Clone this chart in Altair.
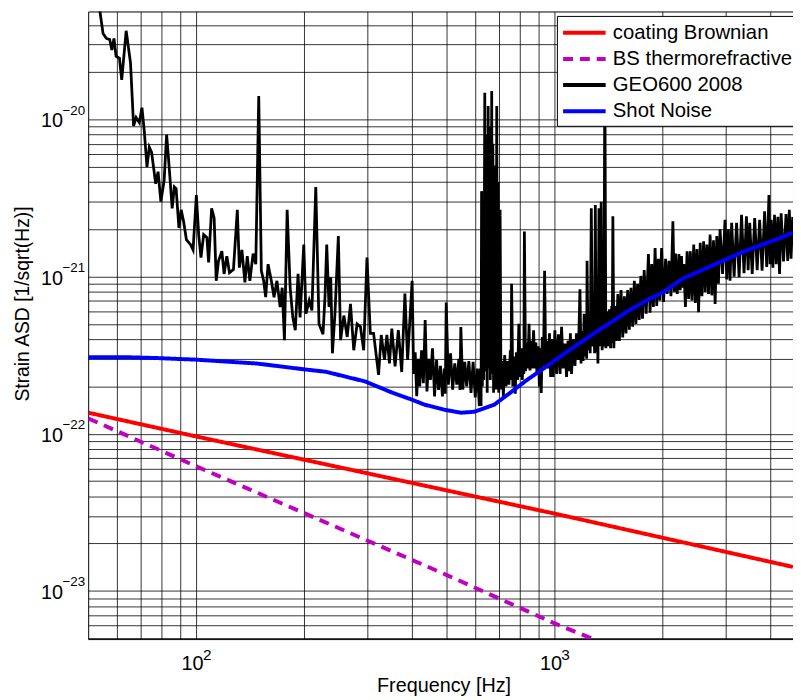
import altair as alt
import pandas as pd

# ---------------- data ----------------
GEO_FREQ = [52, 53.8, 54.9, 56.1, 57.3, 58.1, 58.9, 59.7, 61.0, 61.9, 63.7, 65.5, 66.8, 67.9, 69.3, 70.5,
            71.6, 72.8, 73.9, 75.0, 77.0, 78.2, 79.6, 81.3, 82.6, 83.9, 85.6, 86.8, 87.8, 89.4, 90.7, 92.1,
            93.8, 96.3, 97.9, 100.0, 101.5, 103.0, 104.8, 107.0, 108.2, 110.3, 112.1, 113.6, 115.3, 117.8,
            119.5, 121.6, 123.7, 126.9, 130.1, 131.8, 134.0, 136.6, 138.7, 141.0, 144.0, 146.5, 149.3, 151.8,
            154.1, 156.1, 158.5, 161.9, 164.7, 167.8, 171.3, 173.6, 176.1, 179.2, 182.7, 185.8, 188.8, 192.2,
            194.7, 199.4, 202.2, 206.5, 210.1, 215.4, 219.9, 225.6, 228.5, 231.1, 234.5, 237.1, 239.7, 243.6,
            249.0, 252.6, 258.0, 263.6, 269.2, 274.9, 280.9, 286.9, 293.0, 299.3, 305.8, 312.3, 317.1, 322.4,
            328.0, 334.9, 340.1, 345.8, 351.1, 358.5, 366.1, 374.1, 381.9, 388.6,
            # 400 - 620 Hz
            400, 404, 408, 412, 416, 420, 425, 430, 435, 440, 445, 450, 456, 462, 468, 474, 480, 486, 492,
            495, 498, 505, 512, 519, 526, 533, 540, 544, 547, 554, 561, 568, 576, 584, 592, 600, 608, 616,
            # 620 - 710 Hz line cluster
            620, 623, 625, 628, 631, 634, 638, 640, 642, 644, 646, 648, 650, 651, 652, 655, 658, 661, 664,
            665, 667, 670, 672, 675, 678, 681, 683, 686, 689, 692, 695, 698, 704, 708,
            # 710 - 1000 Hz
            713, 719, 725, 731, 737, 745, 752, 755, 758, 764, 770, 776, 782, 788, 794, 800, 806, 812, 818,
            820, 823, 829, 834, 841, 848, 853, 858, 865, 873, 880, 886, 892, 900, 906, 911, 917, 923, 930,
            937, 944, 950, 958, 967, 974, 981, 990,
            # 1 - 4.6 kHz
            1001, 1012, 1024, 1035, 1045, 1056, 1068, 1079, 1089, 1098, 1106, 1114, 1126, 1139, 1150, 1163,
            1176, 1184, 1192, 1200, 1208, 1216, 1224, 1228, 1231, 1239, 1247, 1256, 1265, 1275, 1285, 1292,
            1298, 1305, 1312, 1320, 1329, 1338, 1348, 1356, 1363, 1371, 1380, 1389, 1398, 1410, 1422, 1432,
            1442, 1447, 1453, 1462, 1472, 1486, 1500, 1515, 1531, 1548, 1565, 1581, 1598, 1615, 1632, 1650,
            1668, 1685, 1703, 1721, 1739, 1758, 1777, 1800, 1826, 1845, 1865, 1885, 1906, 1926, 1946, 1966,
            1987, 2012, 2039, 2060, 2084, 2110, 2137, 2155, 2173, 2197, 2221, 2240, 2258, 2275, 2292, 2316,
            2341, 2365, 2390, 2416, 2443, 2468, 2494, 2520, 2547, 2575, 2603, 2630, 2658, 2686, 2714, 2744,
            2774, 2803, 2833, 2863, 2893, 2940, 2987, 3020, 3052, 3085, 3117, 3167, 3217, 3270, 3321, 3375,
            3428, 3465, 3501, 3557, 3614, 3672, 3731, 3790, 3852, 3905, 3961, 3990, 4019, 4062, 4105, 4150,
            4195, 4240, 4283, 4350, 4421, 4468, 4515, 4565, 4614]
GEO_ASD = [9e-20, 4.9e-20, 3.53e-20, 3.28e-20, 3.23e-20, 2.77e-20, 3.28e-20, 2.52e-20, 2.46e-20, 1.79e-20,
           3.67e-20, 2.29e-20, 9.1e-21, 1.03e-20, 9.57e-21, 1.19e-20, 8.3e-21, 5.0e-21, 6.66e-21, 6.18e-21,
           3.9e-21, 4.65e-21, 3.0e-21, 4.1e-21, 8.0e-21, 5.1e-21, 2.72e-21, 3.72e-21, 3.63e-21, 2.04e-21,
           2.66e-21, 2.25e-21, 1.72e-21, 1.6e-21, 1.48e-21, 3.3e-21, 1.85e-21, 1.32e-21, 1.85e-21, 1.77e-21,
           1.23e-21, 2.72e-21, 2.36e-21, 9.4e-22, 1.26e-21, 1.45e-21, 1.04e-21, 1.35e-21, 1.06e-21, 1.11e-21,
           2.66e-21, 1.14e-21, 1.48e-21, 9.2e-22, 1.35e-21, 9.4e-22, 1.4e-21, 1.2e-21, 1.41e-20, 1.09e-21,
           9.4e-22, 7.4e-22, 1.2e-21, 9.4e-22, 7.4e-22, 9.4e-22, 6.4e-22, 8.5e-22, 3.94e-22, 2.66e-21,
           8.5e-22, 5.52e-22, 4.56e-22, 1.04e-21, 5.5e-22, 1.6e-21, 5.8e-22, 7.05e-22, 6.1e-22, 3.72e-21,
           5.0e-22, 4.3e-22, 7.4e-22, 1.6e-21, 6.4e-22, 9.9e-22, 3.25e-22, 5.8e-22, 1.81e-21, 3.94e-22,
           5.65e-22, 4.13e-22, 6.7e-22, 3.4e-22, 5.0e-22, 4.8e-22, 3.4e-22, 1.32e-21, 4.35e-22, 4.35e-22,
           3.25e-22, 2.37e-22, 4.25e-22, 2.95e-22, 4.25e-22, 2.8e-22, 4.67e-22, 2.68e-22, 4.56e-22, 2.47e-22,
           7.8e-22, 2.95e-22,
           # 400 - 620 Hz
           9.4e-22, 2.4e-22, 3.3e-22, 1.73e-22, 3.0e-22, 2.0e-22, 3.4e-22, 2.1e-22, 5.3e-22, 1.86e-22,
           3.0e-22, 2.2e-22, 3.5e-22, 1.73e-22, 2.95e-22, 1.9e-22, 2.7e-22, 1.73e-22, 2.6e-22,
           1.8e-22, 6.85e-22, 2.05e-22, 3.25e-22, 1.91e-22, 2.8e-22, 2.05e-22, 3.0e-22, 1.9e-22, 4.78e-22,
           1.91e-22, 2.87e-22, 2.0e-22, 2.9e-22, 1.82e-22, 2.87e-22, 1.7e-22, 2.6e-22, 1.5e-22,
           # 620 - 710 Hz
           2.6e-22, 1.5e-22, 3.5e-21, 2.0e-22, 1.9e-21, 2.2e-22, 1.48e-20, 3.0e-22, 6.0e-21, 2.5e-22,
           1.0e-21, 1.82e-22, 8.0e-21, 5.0e-22, 1.22e-20, 2.6e-22, 3.0e-21, 2.2e-22, 9.0e-21,
           4.0e-22, 1.52e-20, 2.4e-22, 7.0e-21, 1.82e-22, 5.1e-21, 2.2e-22, 3.0e-21, 1.91e-22, 1.22e-20,
           2.0e-22, 4.0e-21, 1.82e-22, 2.66e-21, 1.91e-22,
           # 710 - 1000 Hz
           2.9e-22, 1.73e-22, 3.17e-22, 2.0e-22, 2.9e-22, 2.05e-22, 3.4e-22, 2.2e-22, 9.0e-22, 2.0e-22,
           3.1e-22, 1.8e-22, 3.3e-22, 2.2e-22, 5.0e-22, 2.3e-22, 3.5e-22, 2.2e-22, 3.3e-22,
           2.4e-22, 1.94e-21, 2.5e-22, 3.8e-22, 2.6e-22, 5.0e-22, 2.53e-22, 3.9e-22, 2.6e-22, 4.56e-22,
           2.6e-22, 3.8e-22, 2.4e-22, 3.6e-22, 2.0e-22, 3.5e-22, 1.82e-22, 4.13e-22, 2.7e-22,
           1.09e-21, 2.68e-22, 3.9e-22, 2.6e-22, 4.35e-22, 2.3e-22, 4.0e-22, 2.3e-22,
           # 1 - 4.6 kHz
           4.56e-22, 2.4e-22, 4.3e-22, 2.4e-22, 4.8e-22, 2.6e-22, 3.75e-22, 2.3e-22, 3.9e-22, 2.5e-22,
           4.35e-22, 2.4e-22, 4.0e-22, 2.7e-22, 4.35e-22, 2.95e-22,
           8.3e-22, 2.8e-22, 4.5e-22, 2.9e-22, 5.8e-22, 3.1e-22, 5.0e-22, 3.0e-22, 1.26e-21, 3.4e-22,
           5.0e-22, 3.25e-22, 2.72e-21, 3.6e-22, 5.5e-22, 3.25e-22,
           2.86e-21, 3.3e-22, 5.5e-22, 2.8e-22, 2.72e-21, 3.6e-22, 3.0e-21, 3.4e-22, 4.8e-22, 3.6e-22,
           2.0e-20, 3.5e-22, 6.0e-22, 3.6e-22, 6.2e-22, 3.5e-22,
           6.5e-22, 3.8e-22, 2.42e-21, 3.5e-22, 6.5e-22, 3.9e-22, 7.75e-22, 3.9e-22, 8.2e-22, 4.1e-22,
           7.5e-22, 4.35e-22, 8.2e-22, 4.6e-22, 8.5e-22, 4.8e-22,
           9.4e-22, 5.0e-22, 9.0e-22, 5.3e-22, 1.01e-21, 5.4e-22, 1.1e-21, 5.8e-22, 1.39e-21, 5.9e-22,
           1.2e-21, 6.4e-22, 1.52e-21, 6.5e-22, 1.3e-21, 7.05e-22,
           1.52e-21, 6.9e-22, 1.3e-21, 7.75e-22, 1.26e-21, 7.5e-22, 2.25e-21, 8.0e-22, 1.4e-21, 7.75e-22,
           1.39e-21, 8.2e-22, 1.35e-21, 8.5e-22, 1.2e-21, 6.4e-22,
           1.45e-21, 7.2e-22, 1.45e-21, 7.05e-22, 1.6e-21, 6.8e-22, 1.5e-21, 5.94e-22, 1.64e-21, 7.5e-22,
           1.68e-21, 8.0e-22, 1.6e-21, 7.75e-22, 1.85e-21, 7.6e-22,
           1.7e-21, 6.7e-22, 1.81e-21, 9.0e-22, 2.0e-21, 1.04e-21, 2.3e-21, 9.6e-22, 2.0e-21, 9.4e-22,
           2.2e-21, 1.0e-21, 2.2e-21, 9.9e-22, 2.47e-21, 1.05e-21,
           2.42e-21, 1.1e-21, 2.2e-21, 1.04e-21, 2.36e-21, 1.1e-21, 2.3e-21, 1.09e-21, 2.6e-21, 1.15e-21,
           3.3e-21, 1.2e-21, 2.3e-21, 1.14e-21, 2.47e-21, 1.2e-21,
           2.4e-21, 1.04e-21, 2.53e-21, 1.25e-21, 2.5e-21, 1.26e-21, 2.66e-21, 1.3e-21, 2.4e-21]

SHOT_FREQ = [50, 63.2, 77.9, 100, 147.1, 202.3, 229.7, 296, 351, 398.6, 433.6, 493, 548, 596.5, 678, 753,
             837, 931, 1057, 1306, 1615, 1835, 1996, 2267, 2802, 3463, 4283, 4614]
SHOT_ASD = [3.07e-22, 3.07e-22, 3.03e-22, 2.96e-22, 2.8e-22, 2.56e-22, 2.48e-22, 2.15e-22, 1.83e-22, 1.65e-22,
            1.53e-22, 1.42e-22, 1.36e-22, 1.38e-22, 1.53e-22, 1.83e-22, 2.2e-22, 2.6e-22, 3.2e-22, 4.45e-22,
            6.1e-22, 7.2e-22, 7.9e-22, 9.65e-22, 1.2e-21, 1.48e-21, 1.77e-21, 1.9e-21]

COAT_FREQ = [50, 100, 1000, 4620]
COAT_ASD = [1.36e-22, 9.6e-23, 3.1e-23, 1.42e-23]

BS_FREQ = [50, 100, 500, 1000, 1290]
BS_ASD = [1.25e-22, 6.2e-23, 1.26e-23, 6.2e-24, 4.9e-24]

SERIES = ["coating Brownian", "BS thermorefractive", "GEO600 2008", "Shot Noise"]
COLORS = ["#ff0000", "#bf00bf", "#000000", "#0000ff"]
DASHES = [[1, 0], [10, 7], [1, 0], [1, 0]]

X_GRID = [60, 70, 80, 90, 100, 200, 300, 400, 500, 600, 700, 800, 900, 1000, 2000, 3000, 4000]
X_LABEL_VALUES = [100, 1000]
X_LABEL_EXP = ["2", "3"]
Y_GRID = [float(f"{k}e{e}") for e in (-24, -23, -22, -21, -20) for k in range(1, 10)]
Y_LABEL_VALUES = [1e-20, 1e-21, 1e-22, 1e-23]
Y_LABEL_EXP = ["\u221220", "\u221221", "\u221222", "\u221223"]

X_DOMAIN = [49.9, 4623]
Y_DOMAIN = [4.93e-24, 4.87e-20]
Y_GRID = [v for v in Y_GRID if Y_DOMAIN[0] <= v <= Y_DOMAIN[1]]

FONT = "Liberation Sans"

# ---------------- tables ----------------
rows = []
for name, fs, vs in [("GEO600 2008", GEO_FREQ, GEO_ASD), ("Shot Noise", SHOT_FREQ, SHOT_ASD),
                     ("coating Brownian", COAT_FREQ, COAT_ASD), ("BS thermorefractive", BS_FREQ, BS_ASD)]:
    for i, (f, v) in enumerate(zip(fs, vs)):
        rows.append({"series": name, "freq": f, "asd": v, "idx": i})
df = pd.DataFrame(rows)
xexp = pd.DataFrame({"freq": X_LABEL_VALUES, "txt": X_LABEL_EXP})
yexp = pd.DataFrame({"asd": Y_LABEL_VALUES, "txt": Y_LABEL_EXP})

x_expr = " || ".join(f"datum.value == {v}" for v in X_LABEL_VALUES) + " ? '10' : ''"
y_expr = " || ".join(f"datum.value == {v}" for v in Y_LABEL_VALUES) + " ? '10' : ''"

x_axis = alt.Axis(values=X_GRID, labelExpr=x_expr, grid=True, gridColor="black", gridOpacity=0.8,
                  gridWidth=1, ticks=False, tickSize=0, domain=False, labelFont=FONT, labelFontSize=20,
                  labelColor="black", labelPadding=30.7, labelBaseline="alphabetic", labelOffset=-4.3,
                  labelOverlap=False, labelFlush=False, titleFont=FONT, titleFontSize=20,
                  titleFontWeight="normal", titleColor="black", titleX=359, titleY=53,
                  titleBaseline="alphabetic")
y_axis = alt.Axis(values=Y_GRID, labelExpr=y_expr, grid=True, gridColor="black", gridOpacity=0.8,
                  gridWidth=1, ticks=False, tickSize=0, domain=False, labelFont=FONT, labelFontSize=20,
                  labelColor="black", labelPadding=26, labelAlign="right", labelBaseline="alphabetic",
                  labelOffset=7.5, labelOverlap=False, labelFlush=False, titleFont=FONT,
                  titleFontSize=19.5, titleFontWeight="normal", titleColor="black", titleX=-60.7,
                  titleY=295, titleAngle=270, titleBaseline="alphabetic")

legend = alt.Legend(orient="none", legendX=473.5, legendY=4.5, title=None, symbolType="M-1,0H3",
                    symbolSize=462, symbolStrokeWidth=4, labelFont=FONT, labelFontSize=20.5,
                    labelColor="black", labelOffset=26.5, rowPadding=2.4, padding=4, fillColor="white",
                    strokeColor="black", labelLimit=400, direction="vertical")

xs = alt.Scale(type="log", domain=X_DOMAIN, nice=False)
ys = alt.Scale(type="log", domain=Y_DOMAIN, nice=False)
X_ENC = alt.X("freq:Q", scale=xs, axis=x_axis, title="Frequency [Hz]")
Y_ENC = alt.Y("asd:Q", scale=ys, axis=y_axis, title="Strain ASD [1/sqrt(Hz)]")


def layer(name, width):
    return alt.Chart(df).transform_filter(alt.datum.series == name).mark_line(
        clip=True, strokeWidth=width, strokeCap="butt").encode(
        x=X_ENC, y=Y_ENC,
        color=alt.Color("series:N", scale=alt.Scale(domain=SERIES, range=COLORS), legend=legend),
        strokeDash=alt.StrokeDash("series:N", scale=alt.Scale(domain=SERIES, range=DASHES), legend=legend),
        order="idx:Q",
    )


x_exp_layer = alt.Chart(xexp).mark_text(font=FONT, fontSize=15.5, align="left", baseline="alphabetic",
                                        dx=6.7, color="black").encode(
    x=X_ENC, y=alt.value(655.3), text="txt:N")
y_exp_layer = alt.Chart(yexp).mark_text(font=FONT, fontSize=13.5, align="left", baseline="alphabetic",
                                        dy=-4.5, color="black").encode(
    y=Y_ENC, x=alt.value(-26), text="txt:N")

chart = alt.layer(
    layer("GEO600 2008", 2.8),
    layer("Shot Noise", 4),
    layer("coating Brownian", 4),
    layer("BS thermorefractive", 4),
    x_exp_layer,
    y_exp_layer,
).properties(
    width=712, height=634,
    autosize=alt.AutoSizeParams(type="none"),
    padding={"left": 81, "top": 0, "right": 0, "bottom": 56},
    background="white",
).configure_view(stroke="black", strokeWidth=1)

chart.save("out.html", embed_options={"renderer": "svg", "actions": False})
